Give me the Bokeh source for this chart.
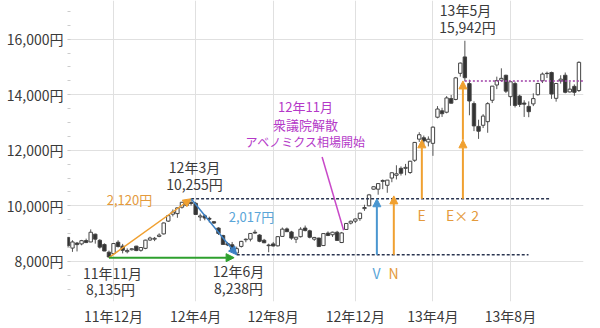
import pandas as pd
from bokeh.plotting import figure
from bokeh.models import (Range1d, FixedTicker, Label, Arrow, NormalHead,
                          ColumnDataSource)
from bokeh.embed import file_html
from bokeh.resources import INLINE

# ---------------- data ----------------
weeks = pd.date_range("2011-09-23", "2013-11-15", freq="7D")

opens = [8864, 8480, 8660, 8630, 8750, 8700, 8980, 8760, 8610, 8330,
         8280, 8690, 8550, 8350, 8420, 8550, 8400, 8470, 8770, 8800,
         8900, 8990, 9450, 9700, 9720, 9950, 10140, 10120, 10090, 9600,
         9640, 9550, 9430, 9200, 8930, 8640, 8600, 8300, 8540, 8780,
         8800, 9050, 8950, 8760, 8590, 8630, 8560, 8900, 9170, 9060,
         8800, 8890, 9200, 9100, 8800, 8840, 8570, 9020, 8960, 9050,
         8680, 9150, 9380, 9450, 9540, 9900, 10000, 10600, 10600, 10880,
         10740, 11000, 11100, 11350, 11350, 11200, 11640, 12400, 12450, 12300,
         12250, 13190, 13420, 13370, 13860, 13830, 14770, 15360, 14400, 13680,
         12860, 12900, 13030, 13800, 14350, 14520, 14700, 13930, 14400, 13950,
         13700, 13580, 13670, 14000, 14500, 14770, 14800, 13870, 14500, 14700,
         14100, 14300, 14150]
highs = [8880, 8763, 8700, 8775, 8820, 9152, 9000, 8800, 8650, 8390,
         8660, 8760, 8630, 8470, 8480, 8560, 8510, 8780, 8890, 8880,
         9010, 9400, 9650, 9870, 9930, 10140, 10190, 10255, 10140, 9720,
         9700, 9610, 9440, 9230, 8960, 8700, 8700, 8530, 8740, 8830,
         9010, 9140, 8980, 8810, 8640, 8700, 8900, 9220, 9220, 9100,
         8880, 9230, 9290, 9140, 8880, 8850, 9010, 9080, 9070, 9100,
         9060, 9380, 9470, 9550, 9750, 10040, 10430, 10700, 10820, 10950,
         10930, 11200, 11460, 11420, 11510, 11620, 12300, 12650, 12530, 12500,
         12860, 13590, 13530, 13950, 13990, 14640, 15160, 15942, 14540, 13760,
         13100, 13300, 13730, 14310, 14650, 14950, 14720, 14470, 14470, 14000,
         13800, 13760, 14050, 14430, 14800, 14830, 14830, 14420, 14700, 14800,
         14460, 14370, 15200]
lows = [8500, 8343, 8359, 8580, 8660, 8690, 8640, 8460, 8370, 8135,
        8270, 8500, 8290, 8290, 8390, 8370, 8350, 8440, 8740, 8730,
        8870, 8970, 9420, 9620, 9570, 9900, 10010, 10010, 9680, 9460,
        9480, 9400, 9350, 8950, 8610, 8550, 8430, 8238, 8500, 8690,
        8720, 9000, 8690, 8660, 8330, 8540, 8540, 8880, 9060, 8780,
        8660, 8860, 9080, 8830, 8740, 8530, 8560, 8910, 8880, 8740,
        8660, 9140, 9330, 9380, 9460, 9820, 9990, 10580, 10400, 10600,
        10470, 10850, 10950, 11090, 11100, 11150, 11580, 12300, 12210, 12140,
        11800, 13150, 13200, 13330, 13690, 13800, 14650, 14480, 13260, 12690,
        12410, 12800, 12630, 13700, 14200, 14470, 14060, 13600, 13540, 13560,
        13200, 13190, 13590, 13970, 14420, 14600, 13850, 13750, 14400, 14050,
        14080, 13960, 14100]
closes = [8560, 8700, 8605, 8747, 8678, 9050, 8801, 8514, 8374, 8160,
          8643, 8536, 8401, 8395, 8455, 8390, 8500, 8766, 8841, 8831,
          8947, 9384, 9647, 9777, 9929, 10129, 10011, 10083, 9688, 9637,
          9561, 9520, 9380, 9009, 8611, 8593, 8440, 8459, 8721, 8798,
          9006, 9020, 8724, 8670, 8566, 8555, 8891, 9162, 9070, 8839,
          8871, 9159, 9110, 8870, 8863, 8534, 9002, 8933, 9051, 8757,
          9024, 9366, 9446, 9527, 9737, 9940, 10395, 10688, 10801, 10913,
          10926, 11191, 11153, 11173, 11385, 11606, 12283, 12560, 12338, 12397,
          12833, 13485, 13316, 13884, 13694, 14607, 15138, 14612, 13774, 12877,
          12686, 13230, 13677, 14309, 14506, 14589, 14129, 14466, 13615, 13650,
          13660, 13389, 13860, 14404, 14742, 14760, 14024, 14404, 14561, 14088,
          14201, 14086, 15165]

x_tick_dates = ["2011-12-02", "2012-04-06", "2012-08-03",
                "2012-12-07", "2013-04-05", "2013-08-02"]
x_tick_labels = ["11年12月", "12年4月", "12年8月", "12年12月", "13年4月", "13年8月"]
y_ticks = [8000, 10000, 12000, 14000, 16000]
y_tick_labels = ["8,000円", "10,000円", "12,000円", "14,000円", "16,000円"]

low_a = 8135      # 11年11月
high_b = 10255    # 12年3月
low_c = 8238      # 12年6月
peak = 15942      # 13年5月
wave_e = high_b - low_a   # 2,120
wave_v = high_b - low_c   # 2,017

# ---------------- helpers ----------------
base = pd.Timestamp("2011-12-02")


def dx(d):
    return (pd.Timestamp(d) - base).days


X0, X1 = -70.6, 721.0
Y0, Y1 = 6557, 17391
FL, FW, FH = 67, 516, 304


def px2x(px):
    return X0 + (px - FL) * (X1 - X0) / FW


def px2y(py):
    return Y1 - py * (Y1 - Y0) / FH


xs = [(w - base).days for w in weeks]
i_a, i_b, i_c, i_p = lows.index(low_a), highs.index(high_b), lows.index(low_c), highs.index(peak)

src = ColumnDataSource(dict(
    x=xs, high=highs, low=lows,
    top=[max(o, c) for o, c in zip(opens, closes)],
    bottom=[min(o, c) for o, c in zip(opens, closes)],
    fill=["#ffffff" if c >= o else "#333333" for o, c in zip(opens, closes)],
))

FONT = "Noto Sans CJK JP"

p = figure(width=600, height=328, output_backend="svg", toolbar_location=None,
           x_range=Range1d(X0, X1), y_range=Range1d(Y0, Y1),
           min_border_left=FL, min_border_right=600 - FL - FW,
           min_border_top=0, min_border_bottom=328 - FH)
p.title.visible = False
p.outline_line_color = None
p.background_fill_color = "white"
p.border_fill_color = "white"

xt = [dx(d) for d in x_tick_dates]
p.xaxis.ticker = FixedTicker(ticks=xt, minor_ticks=[])
p.xaxis.major_label_overrides = {t: l for t, l in zip(xt, x_tick_labels)}
p.yaxis.ticker = FixedTicker(ticks=y_ticks, minor_ticks=list(range(6500, 17500, 500)))
p.yaxis.major_label_overrides = {t: l for t, l in zip(y_ticks, y_tick_labels)}
for ax in (p.xaxis, p.yaxis):
    ax.axis_line_color = None
    ax.major_tick_line_color = None
    ax.major_tick_out = 0
    ax.major_tick_in = 0
    ax.major_label_text_font = FONT
    ax.major_label_text_font_size = "14px"
    ax.major_label_text_color = "#3a3a3a"
p.xaxis.minor_tick_line_color = None
p.xaxis.minor_tick_out = 0
p.yaxis.minor_tick_line_color = "#cccccc"
p.yaxis.minor_tick_out = 0
p.yaxis.minor_tick_in = 3
p.xaxis.major_label_standoff = 4
p.yaxis.major_label_standoff = 4
p.xgrid.grid_line_color = "#e0e0e0"
p.ygrid.grid_line_color = "#e0e0e0"

# candles
p.segment(x0="x", y0="low", x1="x", y1="high", source=src, line_color="#555555", line_width=1)
p.vbar(x="x", width=5.2, top="top", bottom="bottom", source=src,
       fill_color="fill", line_color="#444444", line_width=1)

# reference lines
NAVY = "#2a3550"
p.line([xs[i_b], px2x(550)], [high_b, high_b], line_color=NAVY, line_width=1.5, line_dash="3 2")
p.line([xs[i_c], px2x(528)], [low_c, low_c], line_color=NAVY, line_width=1.5, line_dash="3 2")
p.line([xs[i_p], X1], [high_b + 2 * wave_e] * 2, line_color="#a040a8", line_width=1.5, line_dash="2 2")
p.line([dx("2012-10-17"), dx("2012-11-19")], [11760, 9122], line_color="#c848c8", line_width=1.5)

ORANGE = "#f0a030"
BLUE = "#4a96d0"
GREEN = "#2ea02e"


def arrow(x0, y0, x1, y1, color, lw=1.5, size=8):
    p.add_layout(Arrow(end=NormalHead(size=size, fill_color=color, line_color=color),
                       x_start=x0, y_start=y0, x_end=x1, y_end=y1,
                       line_color=color, line_width=lw))


arrow(xs[i_a], low_a, xs[i_b], high_b, ORANGE, 1.5)
arrow(xs[i_b], high_b, xs[i_c], low_c, "#3c80c4", 1.5)
arrow(xs[i_a], low_a, xs[i_c] - 4, low_a, GREEN, 2)
arrow(dx("2013-01-09"), low_c, dx("2013-01-09"), low_c + wave_v, BLUE, 2)
arrow(dx("2013-02-04"), low_c, dx("2013-02-04"), low_c + wave_e, ORANGE, 2)
arrow(dx("2013-03-19"), high_b, dx("2013-03-19"), high_b + wave_e, ORANGE, 2)
arrow(dx("2013-05-21"), high_b, dx("2013-05-21"), high_b + wave_e, ORANGE, 2)
arrow(dx("2013-05-21"), high_b + wave_e, dx("2013-05-21"), high_b + 2 * wave_e, ORANGE, 2)


def label(px, py, text, color="#3a3a3a", size="14px"):
    p.add_layout(Label(x=px2x(px), y=px2y(py), text=text, text_align="center",
                       text_baseline="middle", text_font=FONT,
                       text_font_size=size, text_color=color))


label(112, 275, "11年11月")
label(110, 291, f"{low_a:,}円")
label(194, 168, "12年3月")
label(194, 185, f"{high_b:,}円")
label(238, 273, "12年6月")
label(238, 290, f"{low_c:,}円")
label(465, 10, "13年5月")
label(467, 27, f"{peak:,}円")
label(129, 201, f"{wave_e:,}円", "#e49a3c", "13px")
label(251, 218, f"{wave_v:,}円", "#5aa5d8", "13px")
MAG = "#b438c8"
label(305, 107, "12年11月", MAG, "13px")
label(305, 125, "衆議院解散", MAG, "13px")
label(305, 142, "アベノミクス相場開始", MAG, "12px")
label(376, 275, "V", "#5aa5d8", "14px")
label(393, 275, "N", "#e49a3c", "14px")
label(421, 217, "E", "#e49a3c", "14px")
label(462, 217, "E× 2", "#e49a3c", "14px")

open("out.html", "w").write(file_html(p, INLINE))
